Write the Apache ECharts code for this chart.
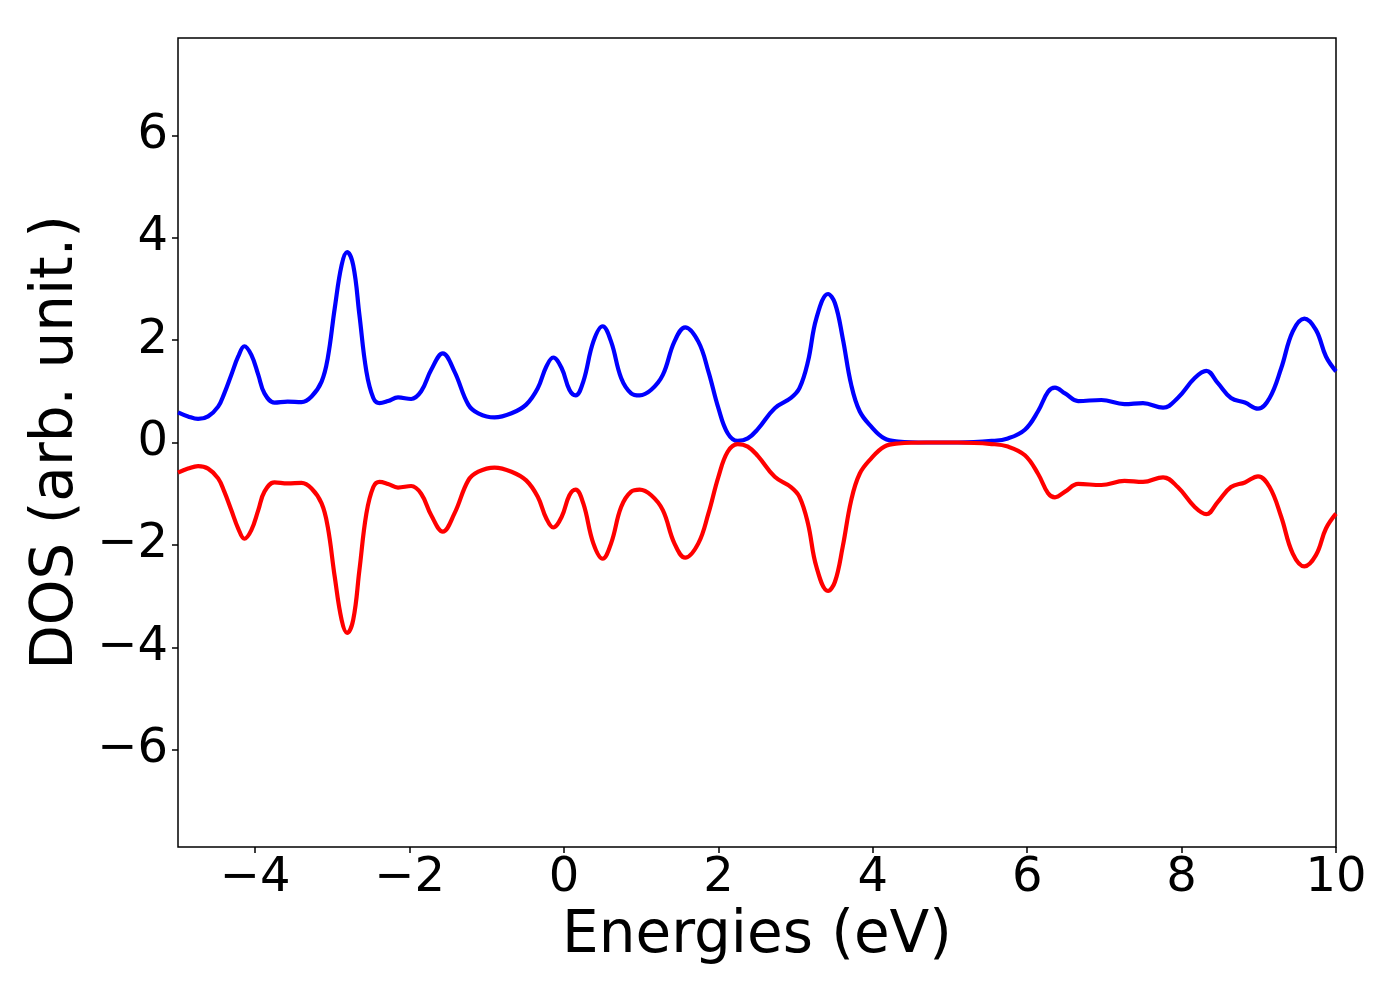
<!DOCTYPE html>
<html>
<head>
<meta charset="utf-8">
<script src="https://cdn.jsdelivr.net/npm/echarts@6/dist/echarts.min.js"></script>
<style>
html,body{margin:0;padding:0;background:#fff;}
#chart{width:1400px;height:1000px;}
</style>
</head>
<body>
<div id="chart"></div>
<script>
const energies = [-5.00,-4.87,-4.74,-4.61,-4.48,-4.40,-4.31,-4.22,-4.14,-4.05,
  -3.96,-3.88,-3.75,-3.58,-3.40,-3.27,-3.14,-3.06,-2.97,-2.88,
  -2.81,-2.73,-2.65,-2.56,-2.47,-2.39,-2.28,-2.15,-1.98,-1.85,
  -1.72,-1.57,-1.42,-1.24,-1.11,-0.90,-0.68,-0.49,-0.34,-0.23,
  -0.14,-0.03,0.07,0.15,0.25,0.38,0.50,0.61,0.74,0.87,
  0.98,1.13,1.28,1.43,1.57,1.74,1.87,2.00,2.12,2.25,
  2.38,2.51,2.73,2.94,3.05,3.16,3.27,3.42,3.51,3.61,
  3.72,3.83,3.98,4.15,4.33,4.70,5.10,5.54,5.75,5.97,
  6.14,6.27,6.36,6.49,6.66,6.96,7.26,7.50,7.76,7.95,
  8.17,8.32,8.47,8.64,8.82,8.99,9.14,9.29,9.44,9.59,
  9.74,9.87,10.00];
const dosUp = [0.59,0.51,0.46,0.51,0.70,0.96,1.32,1.68,1.88,1.71,
  1.32,0.96,0.78,0.80,0.79,0.90,1.19,1.65,2.62,3.47,
  3.72,3.46,2.49,1.39,0.87,0.77,0.81,0.88,0.85,1.00,
  1.42,1.74,1.39,0.74,0.57,0.49,0.57,0.74,1.06,1.48,
  1.66,1.45,1.03,0.92,1.19,1.97,2.27,1.97,1.26,0.96,
  0.92,1.03,1.32,1.97,2.25,1.97,1.39,0.67,0.18,0.03,
  0.08,0.26,0.67,0.87,1.06,1.58,2.43,2.90,2.72,2.04,
  1.13,0.61,0.31,0.08,0.02,0.00,0.00,0.03,0.08,0.25,
  0.61,0.99,1.07,0.96,0.81,0.83,0.75,0.77,0.68,0.87,
  1.26,1.40,1.16,0.87,0.78,0.66,0.87,1.45,2.17,2.42,
  2.20,1.68,1.39];
const dosDown = [-0.59,-0.51,-0.46,-0.51,-0.70,-0.96,-1.32,-1.68,-1.88,-1.71,
  -1.32,-0.96,-0.78,-0.80,-0.79,-0.90,-1.19,-1.65,-2.62,-3.47,
  -3.72,-3.46,-2.49,-1.39,-0.87,-0.77,-0.81,-0.88,-0.85,-1.00,
  -1.42,-1.74,-1.39,-0.74,-0.57,-0.49,-0.57,-0.74,-1.06,-1.48,
  -1.66,-1.45,-1.03,-0.92,-1.19,-1.97,-2.27,-1.97,-1.26,-0.96,
  -0.92,-1.03,-1.32,-1.97,-2.25,-1.97,-1.39,-0.67,-0.18,-0.03,
  -0.08,-0.26,-0.67,-0.87,-1.06,-1.58,-2.43,-2.90,-2.72,-2.04,
  -1.13,-0.61,-0.31,-0.08,-0.02,0.00,0.00,-0.03,-0.08,-0.25,
  -0.61,-0.99,-1.07,-0.96,-0.81,-0.83,-0.75,-0.77,-0.68,-0.87,
  -1.26,-1.40,-1.16,-0.87,-0.78,-0.66,-0.87,-1.45,-2.17,-2.42,
  -2.20,-1.68,-1.39];
const xTicks = [-4,-2,0,2,4,6,8,10];
const yTicks = [-6,-4,-2,0,2,4,6];
const xName = 'Energies (eV)';
const yName = 'DOS (arb. unit.)';

const fmt = v => String(v).replace('-', '\u2212');
const chart = echarts.init(document.getElementById('chart'));
const font = 'DejaVu Sans';
chart.setOption({
  animation: false,
  backgroundColor: '#fff',
  grid: {left: 178, right: 64, top: 38, bottom: 153, show: true, borderColor: '#000', borderWidth: 1.5, backgroundColor: 'transparent'},
  xAxis: {
    type: 'value', min: -5, max: 10,
    name: xName, nameLocation: 'middle', nameGap: 56,
    nameTextStyle: {fontFamily: font, fontSize: 58, color: '#000'},
    axisLine: {show: false, onZero: false},
    axisTick: {show: true, inside: false, length: 6, lineStyle: {color: '#000', width: 1.5}, customValues: xTicks},
    axisLabel: {fontFamily: font, fontSize: 48, color: '#000', margin: 8, formatter: fmt, customValues: xTicks},
    splitLine: {show: false}
  },
  yAxis: {
    type: 'value', min: -7.9, max: 7.9,
    name: yName, nameLocation: 'middle', nameGap: 82,
    nameTextStyle: {fontFamily: font, fontSize: 58, color: '#000'},
    axisLine: {show: false, onZero: false},
    axisTick: {show: true, inside: false, length: 6, lineStyle: {color: '#000', width: 1.5}, customValues: yTicks},
    axisLabel: {fontFamily: font, fontSize: 48, color: '#000', margin: 10, formatter: fmt, customValues: yTicks},
    splitLine: {show: false}
  },
  series: [
    {type: 'line', data: energies.map((e, i) => [e, dosUp[i]]), showSymbol: false, smooth: 0.4, lineStyle: {color: '#0000ff', width: 4.2}, itemStyle: {color: '#0000ff'}, clip: true},
    {type: 'line', data: energies.map((e, i) => [e, dosDown[i]]), showSymbol: false, smooth: 0.4, lineStyle: {color: '#ff0000', width: 4.2}, itemStyle: {color: '#ff0000'}, clip: true}
  ]
});
</script>
</body>
</html>
